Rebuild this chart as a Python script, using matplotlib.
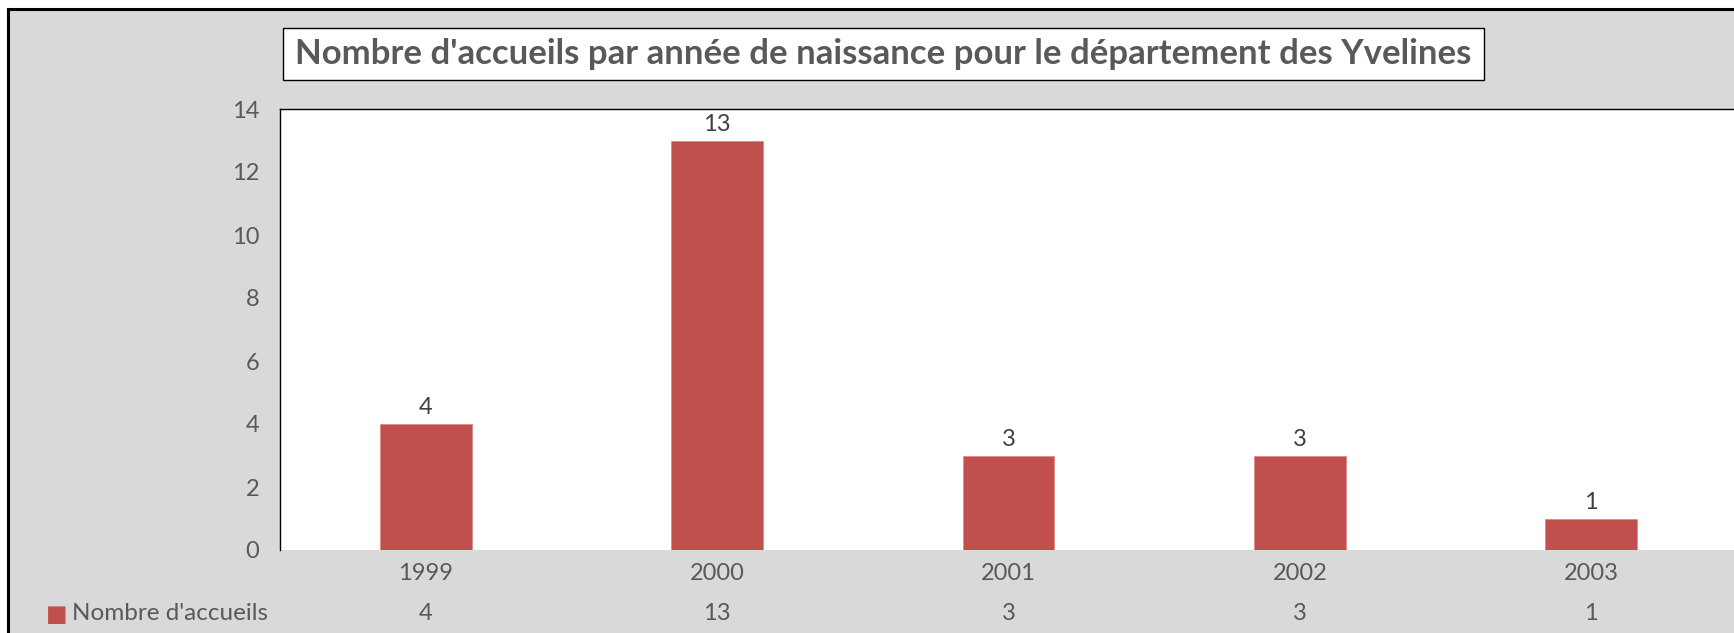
import matplotlib
matplotlib.use("Agg")
import numpy as np
from matplotlib import pyplot as plt
from matplotlib.patches import Rectangle
from matplotlib.transforms import blended_transform_factory

# data
years = ["1999", "2000", "2001", "2002", "2003"]
accueils = [4, 13, 3, 3, 1]
series_name = "Nombre d'accueils"
title = "Nombre d'accueils par année de naissance pour le département des Yvelines"

W, H = 1734, 633
bar_color = "#C0504D"
grey_text = "#595959"
plt.rcParams["font.family"] = ["Lato", "DejaVu Sans"]

fig = plt.figure(figsize=(W / 100, H / 100), dpi=100, facecolor="white")

# grey chart area with black border (cut off on right and bottom)
fig.patches.append(Rectangle((8 / W, -0.2), 1.2, 1.2 - 9 / H,
                             transform=fig.transFigure, facecolor="#D9D9D9",
                             edgecolor="black", linewidth=2.2, zorder=-5))

# plot area
left, right, top, bottom = 280, 1737, 109, 550
ax = fig.add_axes([left / W, 1 - bottom / H, (right - left) / W, (bottom - top) / H])
ax.set_facecolor("white")

x = np.arange(len(years))
ax.bar(x, accueils, width=0.315, color=bar_color, edgecolor="#E08A88", linewidth=0.6)
ax.set_xlim(-0.5, len(years) - 0.5)
ax.set_ylim(0, 14)
ax.set_yticks(range(0, 15, 2))

# value labels above the bars
for xi, v in zip(x, accueils):
    ax.annotate(str(v), (xi, v), xytext=(0, 16), textcoords="offset pixels",
                ha="center", va="center", fontsize=17, color="#404040")

ax.set_xticks(x)
ax.set_xticklabels(years)
ax.tick_params(axis="both", length=0, labelsize=17, labelcolor=grey_text)
ax.tick_params(axis="y", pad=15)
ax.tick_params(axis="x", pad=9)

for side in ["bottom", "right"]:
    ax.spines[side].set_visible(False)
for side in ["left", "top"]:
    ax.spines[side].set_color("black")
    ax.spines[side].set_linewidth(1.0)

# data table row
row_y = 1 - 614 / H
tr = blended_transform_factory(ax.transData, fig.transFigure)
for xi, v in zip(x, accueils):
    fig.text(xi, row_y, str(v), transform=tr, ha="center", va="center",
             fontsize=17, color=grey_text)
fig.text(46 / W, row_y, "■", ha="left", va="center", fontsize=16.5,
         color=bar_color, family="DejaVu Sans")
fig.text(72 / W, row_y, series_name, ha="left", va="center",
         fontsize=17.5, color=grey_text)

# title in a white box
fig.patches.append(Rectangle((283 / W, 1 - 80 / H), (1484 - 283) / W, 52 / H,
                             transform=fig.transFigure, facecolor="white",
                             edgecolor="black", linewidth=1.0, zorder=1))
fig.text(883 / W, 1 - 54 / H, title, ha="center", va="center", fontsize=25,
         fontweight="bold", color=grey_text, zorder=2)

fig.savefig("out.png", dpi=100)
